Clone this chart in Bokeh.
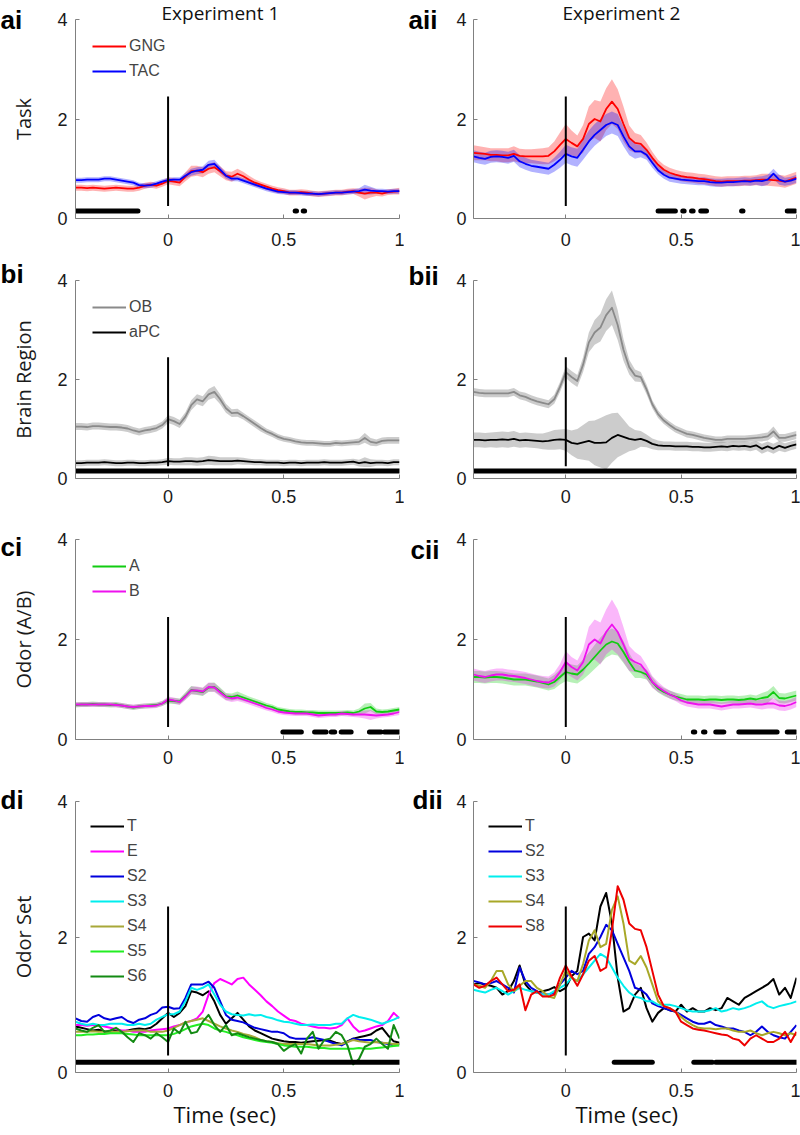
from bokeh.plotting import figure
from bokeh.layouts import column, row
from bokeh.models import Range1d, FixedTicker, Legend, LegendItem, PrintfTickFormatter, Title
from bokeh.embed import file_html
from bokeh.resources import INLINE

# ---------------- time grid (sec) ----------------
T = [-0.4, -0.375, -0.35, -0.325, -0.3, -0.275, -0.25, -0.225,
     -0.2, -0.175, -0.15, -0.125, -0.1, -0.075, -0.05, -0.025,
     0.0, 0.025, 0.05, 0.075, 0.1, 0.125, 0.15, 0.175,
     0.2, 0.225, 0.25, 0.275, 0.3, 0.325, 0.35, 0.375,
     0.4, 0.425, 0.45, 0.475, 0.5, 0.525, 0.55, 0.575,
     0.6, 0.625, 0.65, 0.675, 0.7, 0.725, 0.75, 0.775,
     0.8, 0.825, 0.85, 0.875, 0.9, 0.925, 0.95, 0.975,
     1.0]

X_TICKS = [0, 0.5, 1]
Y_TICKS = [0, 2, 4]
STIM_T = 0.0
STIM_Y = [0.25, 2.45]
SIG_Y = 0.15

# ---------------- a: Task ----------------
GNG_1 = [0.62, 0.62, 0.61, 0.62, 0.61, 0.60, 0.61, 0.62,
         0.61, 0.60, 0.60, 0.62, 0.66, 0.68, 0.66, 0.70,
         0.76, 0.74, 0.72, 0.84, 0.95, 0.96, 0.93, 1.00,
         1.03, 0.95, 0.86, 0.84, 0.90, 0.85, 0.78, 0.72,
         0.68, 0.64, 0.60, 0.57, 0.55, 0.52, 0.52, 0.53,
         0.52, 0.50, 0.49, 0.50, 0.51, 0.52, 0.52, 0.54,
         0.55, 0.52, 0.50, 0.52, 0.52, 0.50, 0.53, 0.54,
         0.55]
GNG_1_SEM = [0.06, 0.06, 0.06, 0.06, 0.06, 0.06, 0.06, 0.06,
             0.06, 0.06, 0.06, 0.06, 0.06, 0.06, 0.06, 0.06,
             0.07, 0.07, 0.07, 0.09, 0.11, 0.10, 0.10, 0.10,
             0.10, 0.10, 0.09, 0.10, 0.10, 0.09, 0.08, 0.07,
             0.06, 0.06, 0.06, 0.06, 0.06, 0.06, 0.06, 0.06,
             0.06, 0.06, 0.06, 0.06, 0.06, 0.06, 0.06, 0.06,
             0.06, 0.08, 0.12, 0.10, 0.07, 0.06, 0.06, 0.06,
             0.07]
TAC_1 = [0.77, 0.77, 0.78, 0.78, 0.78, 0.80, 0.80, 0.78,
         0.76, 0.74, 0.72, 0.67, 0.66, 0.67, 0.70, 0.74,
         0.77, 0.78, 0.78, 0.86, 0.93, 0.96, 0.98, 1.08,
         1.10, 0.98, 0.86, 0.80, 0.80, 0.76, 0.72, 0.68,
         0.64, 0.60, 0.57, 0.54, 0.53, 0.52, 0.52, 0.51,
         0.50, 0.50, 0.49, 0.50, 0.51, 0.52, 0.52, 0.53,
         0.54, 0.55, 0.58, 0.56, 0.55, 0.55, 0.54, 0.55,
         0.55]
TAC_1_SEM = [0.05, 0.05, 0.05, 0.05, 0.05, 0.05, 0.05, 0.05,
             0.05, 0.05, 0.05, 0.05, 0.05, 0.05, 0.05, 0.05,
             0.05, 0.05, 0.05, 0.06, 0.07, 0.07, 0.07, 0.08,
             0.08, 0.07, 0.06, 0.05, 0.05, 0.05, 0.05, 0.05,
             0.05, 0.05, 0.05, 0.05, 0.05, 0.05, 0.05, 0.05,
             0.05, 0.05, 0.05, 0.05, 0.05, 0.05, 0.05, 0.05,
             0.05, 0.06, 0.10, 0.08, 0.05, 0.05, 0.05, 0.05,
             0.05]
GNG_2 = [1.32, 1.31, 1.30, 1.28, 1.28, 1.27, 1.27, 1.30,
         1.26, 1.25, 1.25, 1.25, 1.25, 1.26, 1.35, 1.48,
         1.60, 1.52, 1.45, 1.60, 1.90, 2.00, 1.95, 2.20,
         2.35, 2.20, 1.90, 1.62, 1.52, 1.50, 1.38, 1.22,
         1.08, 0.98, 0.92, 0.88, 0.85, 0.83, 0.82, 0.80,
         0.79, 0.77, 0.75, 0.74, 0.75, 0.75, 0.75, 0.76,
         0.76, 0.77, 0.78, 0.78, 0.77, 0.76, 0.74, 0.78,
         0.82]
GNG_2_SEM = [0.15, 0.14, 0.13, 0.13, 0.13, 0.14, 0.14, 0.15,
             0.14, 0.14, 0.14, 0.15, 0.16, 0.17, 0.20, 0.25,
             0.30, 0.25, 0.22, 0.28, 0.35, 0.38, 0.40, 0.42,
             0.45, 0.40, 0.35, 0.25, 0.20, 0.18, 0.15, 0.12,
             0.10, 0.10, 0.10, 0.10, 0.10, 0.10, 0.10, 0.10,
             0.10, 0.10, 0.10, 0.10, 0.10, 0.10, 0.10, 0.10,
             0.10, 0.10, 0.12, 0.12, 0.12, 0.12, 0.12, 0.12,
             0.12]
TAC_2 = [1.25, 1.22, 1.20, 1.24, 1.25, 1.24, 1.22, 1.26,
         1.15, 1.10, 1.06, 1.04, 1.02, 1.00, 1.08, 1.18,
         1.30, 1.25, 1.22, 1.38, 1.55, 1.68, 1.78, 1.88,
         1.93, 1.88, 1.65, 1.45, 1.35, 1.35, 1.28, 1.12,
         0.97, 0.88, 0.82, 0.80, 0.78, 0.77, 0.76, 0.75,
         0.75, 0.73, 0.72, 0.72, 0.73, 0.73, 0.74, 0.75,
         0.74, 0.76, 0.75, 0.78, 0.90, 0.78, 0.74, 0.76,
         0.80]
TAC_2_SEM = [0.12, 0.12, 0.12, 0.12, 0.12, 0.12, 0.12, 0.12,
             0.12, 0.12, 0.12, 0.12, 0.12, 0.12, 0.14, 0.16,
             0.18, 0.18, 0.18, 0.20, 0.22, 0.22, 0.22, 0.22,
             0.22, 0.22, 0.20, 0.18, 0.15, 0.12, 0.10, 0.10,
             0.08, 0.08, 0.08, 0.08, 0.08, 0.08, 0.08, 0.08,
             0.08, 0.08, 0.08, 0.08, 0.08, 0.08, 0.08, 0.08,
             0.08, 0.08, 0.10, 0.10, 0.10, 0.10, 0.08, 0.08,
             0.08]

# ---------------- b: Brain region ----------------
OB_1 = [1.05, 1.05, 1.04, 1.06, 1.06, 1.05, 1.04, 1.04,
        1.03, 1.01, 0.97, 0.94, 0.97, 0.99, 1.02, 1.08,
        1.20, 1.16, 1.10, 1.25, 1.48, 1.60, 1.56, 1.70,
        1.75, 1.60, 1.42, 1.32, 1.33, 1.26, 1.18, 1.10,
        1.02, 0.95, 0.90, 0.84, 0.80, 0.78, 0.75, 0.73,
        0.72, 0.72, 0.71, 0.70, 0.70, 0.72, 0.71, 0.72,
        0.73, 0.74, 0.82, 0.74, 0.72, 0.76, 0.77, 0.77,
        0.77]
OB_1_SEM = [0.07, 0.07, 0.07, 0.07, 0.07, 0.07, 0.07, 0.07,
            0.07, 0.07, 0.07, 0.07, 0.07, 0.07, 0.07, 0.07,
            0.08, 0.08, 0.08, 0.09, 0.10, 0.10, 0.10, 0.11,
            0.12, 0.10, 0.09, 0.08, 0.08, 0.07, 0.07, 0.07,
            0.07, 0.06, 0.06, 0.06, 0.06, 0.06, 0.06, 0.06,
            0.06, 0.06, 0.06, 0.06, 0.06, 0.06, 0.06, 0.06,
            0.06, 0.07, 0.10, 0.08, 0.07, 0.07, 0.07, 0.07,
            0.07]
APC_1 = [0.31, 0.31, 0.32, 0.32, 0.32, 0.33, 0.32, 0.31,
         0.31, 0.32, 0.32, 0.31, 0.31, 0.32, 0.32, 0.33,
         0.35, 0.34, 0.34, 0.35, 0.35, 0.34, 0.35, 0.37,
         0.36, 0.35, 0.35, 0.35, 0.36, 0.35, 0.34, 0.33,
         0.33, 0.32, 0.32, 0.32, 0.31, 0.32, 0.32, 0.31,
         0.32, 0.32, 0.32, 0.33, 0.32, 0.32, 0.32, 0.33,
         0.34, 0.31, 0.33, 0.31, 0.32, 0.32, 0.31, 0.33,
         0.33]
APC_1_SEM = [0.06, 0.06, 0.06, 0.06, 0.06, 0.06, 0.06, 0.06,
             0.06, 0.06, 0.06, 0.06, 0.06, 0.06, 0.06, 0.06,
             0.07, 0.07, 0.07, 0.08, 0.08, 0.08, 0.08, 0.09,
             0.09, 0.08, 0.08, 0.08, 0.07, 0.07, 0.06, 0.06,
             0.06, 0.06, 0.06, 0.06, 0.06, 0.06, 0.06, 0.06,
             0.06, 0.06, 0.06, 0.06, 0.06, 0.06, 0.06, 0.06,
             0.06, 0.07, 0.10, 0.08, 0.06, 0.06, 0.06, 0.06,
             0.06]
OB_2 = [1.75, 1.73, 1.72, 1.72, 1.72, 1.72, 1.72, 1.75,
        1.68, 1.65, 1.60, 1.56, 1.53, 1.50, 1.60, 1.85,
        2.15, 2.05, 1.97, 2.30, 2.75, 2.95, 3.05, 3.30,
        3.45, 3.10, 2.60, 2.25, 2.08, 2.05, 1.80, 1.50,
        1.30, 1.17, 1.08, 1.00, 0.95, 0.90, 0.88, 0.85,
        0.82, 0.80, 0.78, 0.78, 0.80, 0.80, 0.80, 0.80,
        0.81, 0.82, 0.83, 0.85, 0.95, 0.82, 0.82, 0.85,
        0.88]
OB_2_SEM = [0.08, 0.08, 0.08, 0.08, 0.08, 0.08, 0.08, 0.08,
            0.08, 0.08, 0.08, 0.08, 0.08, 0.08, 0.09, 0.10,
            0.12, 0.12, 0.12, 0.15, 0.20, 0.25, 0.28, 0.32,
            0.35, 0.30, 0.22, 0.15, 0.12, 0.10, 0.10, 0.08,
            0.08, 0.07, 0.07, 0.07, 0.07, 0.07, 0.07, 0.07,
            0.07, 0.07, 0.07, 0.07, 0.07, 0.07, 0.07, 0.07,
            0.07, 0.07, 0.08, 0.08, 0.10, 0.08, 0.08, 0.08,
            0.08]
APC_2 = [0.78, 0.78, 0.77, 0.78, 0.78, 0.79, 0.78, 0.80,
         0.77, 0.78, 0.77, 0.76, 0.75, 0.76, 0.78, 0.79,
         0.78, 0.72, 0.70, 0.73, 0.76, 0.72, 0.72, 0.73,
         0.82, 0.88, 0.84, 0.80, 0.78, 0.80, 0.76, 0.70,
         0.67, 0.66, 0.66, 0.65, 0.65, 0.65, 0.64, 0.64,
         0.63, 0.63, 0.64, 0.65, 0.64, 0.66, 0.65, 0.66,
         0.64, 0.67, 0.60, 0.65, 0.60, 0.66, 0.62, 0.66,
         0.69]
APC_2_SEM = [0.15, 0.15, 0.15, 0.15, 0.16, 0.16, 0.16, 0.16,
             0.15, 0.15, 0.15, 0.15, 0.16, 0.18, 0.20, 0.20,
             0.22, 0.25, 0.30, 0.35, 0.40, 0.45, 0.50, 0.55,
             0.50, 0.45, 0.35, 0.25, 0.20, 0.16, 0.13, 0.11,
             0.10, 0.09, 0.09, 0.09, 0.09, 0.09, 0.09, 0.09,
             0.09, 0.09, 0.09, 0.09, 0.09, 0.09, 0.09, 0.09,
             0.09, 0.09, 0.10, 0.10, 0.10, 0.10, 0.09, 0.09,
             0.09]

# ---------------- c: Odor (A/B) ----------------
A_1 = [0.69, 0.70, 0.70, 0.71, 0.70, 0.70, 0.69, 0.70,
       0.68, 0.66, 0.64, 0.66, 0.67, 0.68, 0.69, 0.72,
       0.78, 0.77, 0.76, 0.87, 0.99, 0.97, 0.95, 1.04,
       1.05, 0.96, 0.86, 0.85, 0.88, 0.84, 0.80, 0.76,
       0.72, 0.68, 0.65, 0.60, 0.58, 0.56, 0.55, 0.55,
       0.54, 0.54, 0.53, 0.53, 0.53, 0.53, 0.53, 0.54,
       0.53, 0.56, 0.62, 0.65, 0.56, 0.55, 0.56, 0.58,
       0.60]
A_1_SEM = [0.05, 0.05, 0.05, 0.05, 0.05, 0.05, 0.05, 0.05,
           0.05, 0.05, 0.05, 0.05, 0.05, 0.05, 0.05, 0.05,
           0.06, 0.06, 0.06, 0.07, 0.08, 0.08, 0.08, 0.09,
           0.09, 0.08, 0.07, 0.07, 0.08, 0.07, 0.06, 0.06,
           0.06, 0.05, 0.05, 0.05, 0.05, 0.05, 0.05, 0.05,
           0.05, 0.05, 0.05, 0.05, 0.05, 0.05, 0.05, 0.05,
           0.05, 0.06, 0.10, 0.08, 0.06, 0.05, 0.05, 0.05,
           0.05]
B_1 = [0.70, 0.70, 0.70, 0.70, 0.70, 0.70, 0.70, 0.69,
       0.68, 0.66, 0.65, 0.66, 0.67, 0.67, 0.68, 0.72,
       0.80, 0.78, 0.75, 0.86, 0.98, 0.98, 0.96, 1.05,
       1.04, 0.94, 0.85, 0.82, 0.84, 0.80, 0.76, 0.72,
       0.68, 0.63, 0.60, 0.56, 0.54, 0.53, 0.52, 0.52,
       0.52, 0.50, 0.48, 0.49, 0.50, 0.50, 0.52, 0.51,
       0.50, 0.50, 0.50, 0.49, 0.48, 0.49, 0.50, 0.52,
       0.55]
B_1_SEM = [0.05, 0.05, 0.05, 0.05, 0.05, 0.05, 0.05, 0.05,
           0.05, 0.05, 0.05, 0.05, 0.05, 0.05, 0.05, 0.05,
           0.06, 0.06, 0.06, 0.07, 0.08, 0.08, 0.08, 0.09,
           0.09, 0.08, 0.07, 0.07, 0.07, 0.06, 0.06, 0.06,
           0.06, 0.05, 0.05, 0.05, 0.05, 0.05, 0.05, 0.05,
           0.05, 0.05, 0.05, 0.05, 0.05, 0.05, 0.05, 0.05,
           0.05, 0.06, 0.08, 0.10, 0.06, 0.05, 0.05, 0.05,
           0.06]
A_2 = [1.25, 1.25, 1.24, 1.25, 1.25, 1.24, 1.22, 1.20,
       1.20, 1.20, 1.18, 1.16, 1.13, 1.10, 1.15, 1.25,
       1.35, 1.32, 1.30, 1.40, 1.52, 1.65, 1.78, 1.90,
       1.96, 1.92, 1.75, 1.55, 1.38, 1.35, 1.30, 1.15,
       1.02, 0.95, 0.90, 0.86, 0.83, 0.80, 0.80, 0.80,
       0.79, 0.80, 0.80, 0.79, 0.80, 0.80, 0.79, 0.80,
       0.82, 0.80, 0.83, 0.85, 0.95, 0.83, 0.82, 0.85,
       0.88]
A_2_SEM = [0.12, 0.12, 0.12, 0.12, 0.12, 0.12, 0.12, 0.12,
           0.12, 0.12, 0.12, 0.12, 0.12, 0.12, 0.14, 0.15,
           0.18, 0.18, 0.18, 0.20, 0.22, 0.24, 0.26, 0.26,
           0.26, 0.24, 0.22, 0.18, 0.15, 0.12, 0.10, 0.10,
           0.08, 0.08, 0.08, 0.08, 0.08, 0.08, 0.08, 0.08,
           0.08, 0.08, 0.08, 0.08, 0.08, 0.08, 0.08, 0.08,
           0.08, 0.08, 0.10, 0.12, 0.12, 0.10, 0.10, 0.10,
           0.10]
B_2 = [1.30, 1.27, 1.25, 1.28, 1.30, 1.30, 1.28, 1.27,
       1.25, 1.23, 1.20, 1.17, 1.15, 1.14, 1.20, 1.35,
       1.55, 1.45, 1.38, 1.55, 1.90, 2.00, 1.92, 2.15,
       2.30, 2.15, 1.90, 1.62, 1.55, 1.50, 1.35, 1.15,
       1.05, 0.97, 0.90, 0.85, 0.78, 0.74, 0.72, 0.70,
       0.70, 0.70, 0.68, 0.66, 0.68, 0.70, 0.70, 0.71,
       0.72, 0.70, 0.70, 0.72, 0.72, 0.68, 0.67, 0.70,
       0.75]
B_2_SEM = [0.12, 0.12, 0.12, 0.12, 0.12, 0.12, 0.12, 0.12,
           0.12, 0.12, 0.12, 0.12, 0.12, 0.12, 0.14, 0.16,
           0.22, 0.20, 0.20, 0.25, 0.35, 0.40, 0.42, 0.45,
           0.50, 0.45, 0.35, 0.25, 0.20, 0.17, 0.14, 0.12,
           0.10, 0.08, 0.08, 0.08, 0.08, 0.08, 0.08, 0.08,
           0.08, 0.08, 0.08, 0.08, 0.08, 0.08, 0.08, 0.08,
           0.08, 0.08, 0.10, 0.10, 0.10, 0.10, 0.10, 0.10,
           0.10]

# ---------------- d: Odor set ----------------
D1_T = [0.68, 0.66, 0.64, 0.62, 0.63, 0.61, 0.60, 0.62,
        0.60, 0.62, 0.64, 0.65, 0.64, 0.66, 0.72, 0.80,
        0.88, 0.82, 0.88, 0.98, 1.20, 1.18, 1.14, 1.20,
        1.05, 0.85, 0.72, 0.80, 0.88, 0.78, 0.68, 0.62,
        0.58, 0.54, 0.50, 0.48, 0.46, 0.45, 0.45, 0.44,
        0.45, 0.46, 0.47, 0.48, 0.47, 0.44, 0.42, 0.46,
        0.50, 0.52, 0.54, 0.56, 0.62, 0.66, 0.55, 0.46,
        0.44]
D1_E = [0.70, 0.70, 0.69, 0.70, 0.70, 0.68, 0.66, 0.64,
        0.62, 0.62, 0.60, 0.60, 0.60, 0.62, 0.63, 0.64,
        0.65, 0.68, 0.70, 0.74, 0.76, 0.80, 0.90, 1.15,
        1.32, 1.38, 1.34, 1.30, 1.38, 1.40, 1.30, 1.22,
        1.14, 1.05, 0.98, 0.90, 0.84, 0.78, 0.76, 0.72,
        0.70, 0.68, 0.66, 0.66, 0.65, 0.66, 0.70, 0.80,
        0.68, 0.60, 0.62, 0.65, 0.68, 0.70, 0.76, 0.88,
        0.80]
D1_S2 = [0.80, 0.76, 0.75, 0.82, 0.85, 0.80, 0.78, 0.80,
         0.82, 0.76, 0.73, 0.78, 0.80, 0.85, 0.88, 0.96,
         0.97, 0.94, 0.95, 1.10, 1.30, 1.30, 1.30, 1.34,
         1.25, 1.05, 0.85, 0.78, 0.76, 0.74, 0.70, 0.66,
         0.64, 0.62, 0.60, 0.60, 0.58, 0.52, 0.50, 0.50,
         0.50, 0.52, 0.50, 0.48, 0.45, 0.42, 0.40, 0.45,
         0.50, 0.48, 0.48, 0.48, 0.45, 0.44, 0.42, 0.40,
         0.42]
D1_S3 = [0.75, 0.72, 0.70, 0.72, 0.70, 0.70, 0.72, 0.72,
         0.72, 0.70, 0.70, 0.72, 0.70, 0.72, 0.78, 0.82,
         0.86, 0.86, 0.90, 1.05, 1.25, 1.22, 1.25, 1.30,
         1.15, 1.00, 0.90, 0.86, 0.85, 0.84, 0.86, 0.84,
         0.85, 0.82, 0.80, 0.77, 0.75, 0.74, 0.72, 0.70,
         0.70, 0.71, 0.70, 0.70, 0.70, 0.72, 0.72, 0.80,
         0.85, 0.82, 0.80, 0.78, 0.75, 0.72, 0.75, 0.78,
         0.82]
D1_S4 = [0.60, 0.60, 0.60, 0.61, 0.60, 0.60, 0.60, 0.60,
         0.60, 0.61, 0.62, 0.62, 0.62, 0.60, 0.60, 0.60,
         0.62, 0.66, 0.70, 0.74, 0.76, 0.78, 0.80, 0.76,
         0.72, 0.68, 0.65, 0.62, 0.60, 0.57, 0.55, 0.52,
         0.48, 0.46, 0.45, 0.43, 0.42, 0.42, 0.42, 0.42,
         0.42, 0.41, 0.40, 0.40, 0.40, 0.41, 0.42, 0.45,
         0.48, 0.46, 0.45, 0.44, 0.45, 0.44, 0.43, 0.42,
         0.42]
D1_S5 = [0.55, 0.55, 0.56, 0.56, 0.57, 0.57, 0.58, 0.58,
         0.58, 0.57, 0.56, 0.55, 0.55, 0.55, 0.55, 0.55,
         0.55, 0.57, 0.60, 0.64, 0.68, 0.70, 0.72, 0.70,
         0.65, 0.62, 0.60, 0.57, 0.55, 0.52, 0.50, 0.48,
         0.46, 0.45, 0.44, 0.42, 0.40, 0.39, 0.38, 0.38,
         0.38, 0.37, 0.36, 0.36, 0.35, 0.35, 0.35, 0.35,
         0.35, 0.36, 0.35, 0.35, 0.36, 0.37, 0.38, 0.39,
         0.40]
D1_S6 = [0.65, 0.62, 0.60, 0.66, 0.70, 0.60, 0.62, 0.66,
         0.60, 0.52, 0.45, 0.58, 0.55, 0.50, 0.58, 0.52,
         0.45, 0.65, 0.58, 0.75, 0.58, 0.60, 0.75, 0.85,
         0.70, 0.60, 0.70, 0.55, 0.58, 0.55, 0.52, 0.50,
         0.48, 0.46, 0.45, 0.42, 0.32, 0.38, 0.42, 0.28,
         0.50, 0.60, 0.35, 0.48, 0.50, 0.60, 0.55, 0.40,
         0.12, 0.20, 0.38, 0.42, 0.50, 0.42, 0.35, 0.70,
         0.50]
D2_T = [1.30, 1.32, 1.30, 1.28, 1.25, 1.15, 1.20, 1.35,
        1.58, 1.30, 1.20, 1.18, 1.20, 1.22, 1.26, 1.20,
        1.25, 1.42, 1.50, 2.00, 2.05, 1.95, 2.45, 2.65,
        2.20, 1.40, 0.90, 0.95, 1.15, 1.25, 0.95, 0.75,
        0.88, 0.95, 0.92, 0.90, 1.00, 0.90, 0.95, 0.90,
        0.90, 0.95, 0.92, 0.95, 1.10, 1.05, 1.00, 1.10,
        1.15, 1.20, 1.25, 1.30, 1.38, 1.15, 1.25, 1.10,
        1.40]
D2_S2 = [1.35, 1.33, 1.30, 1.32, 1.35, 1.30, 1.25, 1.18,
         1.55, 1.35, 1.25, 1.20, 1.15, 1.15, 1.18, 1.30,
         1.40, 1.50, 1.45, 1.50, 1.75, 1.85, 2.00, 2.18,
         2.10, 1.90, 1.70, 1.50, 1.25, 1.22, 1.15, 1.02,
         0.98, 0.95, 0.92, 0.90, 0.85, 0.80, 0.75, 0.72,
         0.72, 0.75, 0.70, 0.68, 0.65, 0.65, 0.62, 0.60,
         0.55, 0.60, 0.68, 0.60, 0.55, 0.52, 0.50, 0.60,
         0.70]
D2_S3 = [1.22, 1.20, 1.18, 1.22, 1.25, 1.20, 1.15, 1.20,
         1.25, 1.22, 1.20, 1.18, 1.15, 1.15, 1.20, 1.25,
         1.30, 1.40, 1.35, 1.45, 1.55, 1.65, 1.75, 1.70,
         1.55, 1.40, 1.28, 1.18, 1.12, 1.10, 1.05, 1.05,
         1.00, 1.00, 1.00, 0.98, 0.95, 0.92, 0.90, 0.90,
         0.90, 0.92, 0.95, 0.90, 0.92, 0.95, 0.93, 0.95,
         0.98, 1.02, 1.05, 0.98, 0.95, 0.98, 1.00, 1.02,
         1.05]
D2_S4 = [1.30, 1.28, 1.25, 1.35, 1.50, 1.50, 1.30, 1.20,
         1.28, 1.35, 1.35, 1.25, 1.20, 1.12, 1.10, 1.30,
         1.50, 1.40, 1.35, 1.60, 1.95, 2.10, 1.85, 1.90,
         2.40, 2.60, 2.20, 1.65, 1.60, 1.72, 1.55, 1.30,
         1.05, 0.98, 0.95, 0.90, 0.82, 0.75, 0.70, 0.66,
         0.65, 0.65, 0.64, 0.65, 0.65, 0.62, 0.60, 0.60,
         0.62, 0.58, 0.55, 0.58, 0.60, 0.58, 0.55, 0.58,
         0.55]
D2_S8 = [1.30, 1.25, 1.28, 1.35, 1.40, 1.30, 1.20, 1.22,
         1.30, 0.92, 1.15, 1.20, 1.12, 1.12, 1.15, 1.40,
         1.58, 1.42, 1.28, 1.45, 1.65, 1.72, 1.50, 1.55,
         2.10, 2.75, 2.55, 2.20, 2.12, 2.10, 1.85, 1.50,
         1.15, 0.98, 0.95, 0.90, 0.75, 0.70, 0.65, 0.63,
         0.62, 0.60, 0.58, 0.56, 0.55, 0.50, 0.48, 0.40,
         0.50, 0.55, 0.50, 0.45, 0.45, 0.50, 0.60, 0.45,
         0.60]

# ---------------- significance (start, end in sec) ----------------
SIG_AI_START = [-0.4, 0.549, 0.584]
SIG_AI_END = [-0.13, 0.555, 0.590]
SIG_AII_START = [0.40, 0.507, 0.545, 0.585, 0.762, 0.96]
SIG_AII_END = [0.475, 0.513, 0.552, 0.61, 0.768, 0.995]
SIG_BI_START = [-0.4]
SIG_BI_END = [1.0]
SIG_BII_START = [-0.4]
SIG_BII_END = [1.0]
SIG_CI_START = [0.496, 0.633, 0.705, 0.748, 0.87, 0.935]
SIG_CI_END = [0.576, 0.683, 0.72, 0.791, 0.92, 1.0]
SIG_CII_START = [0.553, 0.597, 0.65, 0.75, 0.96]
SIG_CII_END = [0.559, 0.603, 0.685, 0.916, 0.996]
SIG_DI_START = [-0.4]
SIG_DI_END = [1.0]
SIG_DII_START = [0.21, 0.555, 0.65]
SIG_DII_END = [0.375, 0.635, 1.0]

# ---------------- styling ----------------
RED = "#ff0000"
BLUE = "#0000ff"
GRAY = "#8a8a8a"
BLACK = "#000000"
GREEN = "#11cc11"
MAGENTA = "#ee11ee"
AXC = "#808080"
TICK_FONT = "Liberation Sans"
TEXT_FONT = "Open Sans"

ROWS = {
    "a": dict(top=19, fh=199, bottom=40, xstand=14),
    "b": dict(top=22, fh=198, bottom=40, xstand=11),
    "c": dict(top=21, fh=200, bottom=40, xstand=11),
    "d": dict(top=22, fh=271, bottom=63, xstand=11),
}
COLS = {
    "i": dict(left=75, fw=324, right=5, ystand=8),
    "ii": dict(left=69, fw=323, right=4, ystand=7),
}


def make_fig(r, c):
    R, C = ROWS[r], COLS[c]
    p = figure(frame_width=C["fw"], frame_height=R["fh"],
               min_border_left=C["left"], min_border_right=C["right"],
               min_border_top=R["top"], min_border_bottom=R["bottom"],
               x_range=Range1d(-0.4, 1.0), y_range=Range1d(0, 4),
               output_backend="svg", toolbar_location=None, tools="")
    p.grid.visible = False
    p.outline_line_color = None
    p.background_fill_color = "white"
    p.border_fill_color = "white"
    p.xaxis.ticker = FixedTicker(ticks=X_TICKS)
    p.yaxis.ticker = FixedTicker(ticks=Y_TICKS)
    p.xaxis.formatter = PrintfTickFormatter(format="%g")
    p.yaxis.formatter = PrintfTickFormatter(format="%g")
    for ax in (p.xaxis[0], p.yaxis[0]):
        ax.axis_line_color = AXC
        ax.axis_line_width = 1
        ax.major_tick_line_color = AXC
        ax.minor_tick_line_color = None
        ax.major_tick_in = 4
        ax.major_tick_out = 0
        ax.major_label_text_font = TICK_FONT
        ax.major_label_text_font_size = "18px"
        ax.major_label_text_color = "#1a1a1a"
        ax.axis_label_text_font = TEXT_FONT
        ax.axis_label_text_font_size = "20px"
        ax.axis_label_text_font_style = "normal"
        ax.axis_label_text_color = "#1a1a1a"
    p.xaxis.major_label_standoff = R["xstand"]
    p.yaxis.major_label_standoff = C["ystand"]
    return p


def add_series(p, series, lw, band_alpha):
    for m, s, col, bcol, lab in series:
        if s is not None:
            lo = [a - b for a, b in zip(m, s)]
            hi = [a + b for a, b in zip(m, s)]
            p.varea(x=T, y1=lo, y2=hi, fill_color=bcol, fill_alpha=band_alpha)
    items = []
    for m, s, col, bcol, lab in series:
        rr = p.line(T, m, line_color=col, line_width=lw, line_join="round")
        items.append(LegendItem(label=lab, renderers=[rr]))
    return items


def add_common(p, sig_start, sig_end):
    p.segment(x0=[STIM_T], y0=[STIM_Y[0]], x1=[STIM_T], y1=[STIM_Y[1]],
              line_color=BLACK, line_width=2)
    p.segment(x0=sig_start, y0=[SIG_Y] * len(sig_start), x1=sig_end,
              y1=[SIG_Y] * len(sig_end), line_color=BLACK, line_width=5,
              line_cap="round")


def add_legend(p, items, margin):
    lg = Legend(items=items, location="top_left", margin=margin, padding=0,
                spacing=5, glyph_width=34, glyph_height=20, label_height=20,
                label_standoff=3, label_text_font=TICK_FONT,
                label_text_font_size="16px", background_fill_alpha=0,
                border_line_alpha=0)
    p.add_layout(lg)


PANELS = [
    ("a", "i", [(GNG_1, GNG_1_SEM, RED, RED, "GNG"), (TAC_1, TAC_1_SEM, BLUE, BLUE, "TAC")],
     (SIG_AI_START, SIG_AI_END), "ai", -75, -31, "Task", True, 0.3),
    ("a", "ii", [(GNG_2, GNG_2_SEM, RED, RED, "GNG"), (TAC_2, TAC_2_SEM, BLUE, BLUE, "TAC")],
     (SIG_AII_START, SIG_AII_END), "aii", -65, -31, None, False, 0.3),
    ("b", "i", [(OB_1, OB_1_SEM, GRAY, "#999999", "OB"), (APC_1, APC_1_SEM, BLACK, "#999999", "aPC")],
     (SIG_BI_START, SIG_BI_END), "bi", -75, -17, "Brain Region", True, 0.5),
    ("b", "ii", [(OB_2, OB_2_SEM, GRAY, "#999999", "OB"), (APC_2, APC_2_SEM, BLACK, "#999999", "aPC")],
     (SIG_BII_START, SIG_BII_END), "bii", -65, -21, None, False, 0.5),
    ("c", "i", [(A_1, A_1_SEM, GREEN, GREEN, "A"), (B_1, B_1_SEM, MAGENTA, MAGENTA, "B")],
     (SIG_CI_START, SIG_CI_END), "ci", -75, -45, "Odor (A/B)", True, 0.3),
    ("c", "ii", [(A_2, A_2_SEM, GREEN, GREEN, "A"), (B_2, B_2_SEM, MAGENTA, MAGENTA, "B")],
     (SIG_CII_START, SIG_CII_END), "cii", -63, -51, None, False, 0.3),
    ("d", "i", [(D1_T, None, BLACK, None, "T"), (D1_E, None, "#ff00ff", None, "E"),
                (D1_S2, None, "#0000dd", None, "S2"), (D1_S3, None, "#00eeee", None, "S3"),
                (D1_S4, None, "#a8a838", None, "S4"), (D1_S5, None, "#22ee22", None, "S5"),
                (D1_S6, None, "#138a13", None, "S6")],
     (SIG_DI_START, SIG_DI_END), "di", -75, -27, "Odor Set", True, 0.3),
    ("d", "ii", [(D2_T, None, BLACK, None, "T"), (D2_S2, None, "#0000dd", None, "S2"),
                 (D2_S3, None, "#00eeee", None, "S3"), (D2_S4, None, "#a8a828", None, "S4"),
                 (D2_S8, None, "#ee0000", None, "S8")],
     (SIG_DII_START, SIG_DII_END), "dii", -61, -27, None, True, 0.3),
]

figs = {}
for r, c, series, sig, letter, loff, lstand, ylab, show_leg, balpha in PANELS:
    p = make_fig(r, c)
    lw = 2.0 if r == "d" else 1.8
    items = add_series(p, series, lw, balpha)
    add_common(p, sig[0], sig[1])
    if show_leg:
        add_legend(p, items, 15 if r == "d" else 17)
    p.add_layout(Title(text=letter, align="left", offset=loff, standoff=lstand,
                       vertical_align="bottom", text_font=TICK_FONT,
                       text_font_style="bold", text_font_size="26px",
                       text_color="black"), "above")
    if r == "a":
        p.add_layout(Title(text="Experiment 1" if c == "i" else "Experiment 2",
                           align="left", offset=86 if c == "i" else 89, standoff=-15,
                           vertical_align="bottom", text_font=TEXT_FONT,
                           text_font_style="normal", text_font_size="19px",
                           text_color="#111111"), "above")
    if ylab:
        p.yaxis.axis_label = ylab
        p.yaxis.axis_label_standoff = 17
    if r == "d":
        p.add_layout(Title(text="Time (sec)", align="left",
                           offset=98 if c == "i" else 102, standoff=-2,
                           vertical_align="top", text_font=TEXT_FONT,
                           text_font_style="normal", text_font_size="22px",
                           text_color="#111111"), "below")
    figs[(r, c)] = p

layout = column(*[row(figs[(r, "i")], figs[(r, "ii")]) for r in "abcd"])

open("out.html", "w").write(file_html(layout, INLINE))
